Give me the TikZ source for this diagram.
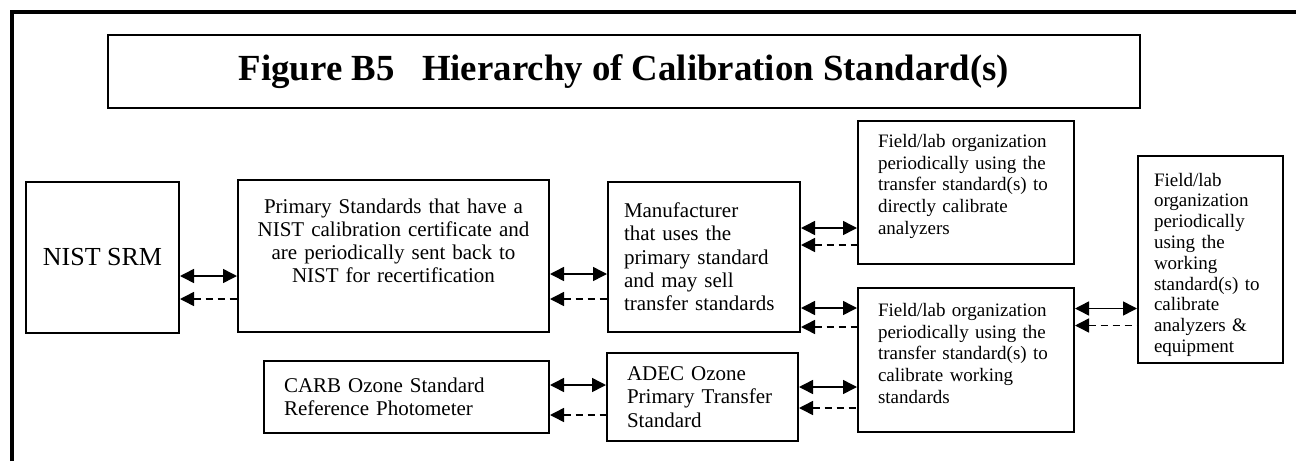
\documentclass[tikz,border=0pt]{standalone}
\usepackage{fontspec}
\setmainfont{Liberation Serif}
\usetikzlibrary{arrows.meta}

\begin{document}
\begin{tikzpicture}[x=0.5pt,y=-0.5pt,>={Triangle[length=7pt,width=7pt]},
                    line width=0.75pt]
  \tikzset{box/.style={draw,rectangle,line width=1pt,anchor=north west,inner sep=0pt},
           big/.style={font=\fontsize{10.5}{11.65}\selectfont},
           small/.style={font=\fontsize{9.5}{10.85}\selectfont},
           both/.style={<->},
           back/.style={<-,dash pattern=on 3.5pt off 2.5pt}}

  \useasboundingbox (0,0) rectangle (1296,461);
  \draw[line width=2pt] (11.5,461) -- (11.5,11.5) -- (1296,11.5);

  \node[box,minimum width=516pt,minimum height=36.5pt,
        font=\fontsize{18.4}{22}\selectfont\bfseries] (title) at (107,34)
        {Figure B5~~~Hierarchy of Calibration Standard(s)};

  \node[box,minimum width=76.5pt,minimum height=75.5pt,
        font=\fontsize{13}{15}\selectfont] (nist) at (25,181) {NIST SRM};
  \node[box,big,minimum width=155.5pt,minimum height=76pt,
        text height=16.5pt,text depth=59.5pt,
        text width=145pt,align=center] (prim) at (237,179)
        {Primary Standards that have a\\ NIST calibration certificate and\\
         are periodically sent back to\\ NIST for recertification};
  \node[box,big,minimum width=96pt,minimum height=75pt,inner xsep=8pt,
        text width=80pt,align=left] (manu) at (607,181)
        {Manufacturer\\ that uses the\\ primary standard\\ and may sell\\ transfer standards};
  \node[box,small,minimum width=108pt,minimum height=71.5pt,inner xsep=10pt,
        text height=13.25pt,text depth=58.25pt,
        text width=88pt,align=left] (fldA) at (857,120)
        {Field/lab organization\\ periodically using the\\ transfer standard(s) to\\
         directly calibrate\\ analyzers};
  \node[box,small,minimum width=108pt,minimum height=72pt,inner xsep=10pt,
        text height=14.25pt,text depth=57.75pt,
        text width=88pt,align=left] (fldB) at (857,287)
        {Field/lab organization\\ periodically using the\\ transfer standard(s) to\\
         calibrate working\\ standards};
  \node[box,font=\fontsize{9.5}{10.4}\selectfont,minimum width=72.5pt,
        minimum height=103.5pt,inner xsep=8pt,
        text height=15pt,text depth=88.5pt,
        text width=56.5pt,align=left] (work) at (1137,155)
        {Field/lab\\ organization\\ periodically\\ using the\\ working\\
         standard(s) to\\ calibrate\\ analyzers \&\\ equipment};
  \node[box,big,minimum width=142.5pt,minimum height=36pt,inner xsep=10pt,
        text width=122.5pt,align=left] (carb) at (263,360)
        {CARB Ozone Standard\\ Reference Photometer};
  \node[box,big,minimum width=95.5pt,minimum height=44pt,inner xsep=10pt,
        text width=75.5pt,align=left] (adec) at (606,352)
        {ADEC Ozone\\ Primary Transfer\\ Standard};

  % solid: both ways, dashed: back down the chain
  \draw[both] ([yshift=-9.25pt]nist.east) -- ([yshift=-9.25pt]nist.east -| prim.west);
  \draw[back] ([yshift=-20.75pt]nist.east) -- ([yshift=-20.75pt]nist.east -| prim.west);
  \draw[both] ([yshift=-9pt]prim.east) -- ([yshift=-9pt]prim.east -| manu.west);
  \draw[back] ([yshift=-21.5pt]prim.east) -- ([yshift=-21.5pt]prim.east -| manu.west);
  \draw[both] ([yshift=14.5pt]manu.east) -- ([yshift=14.5pt]manu.east -| fldA.west);
  \draw[back] ([yshift=6pt]manu.east) -- ([yshift=6pt]manu.east -| fldA.west);
  \draw[both] ([yshift=-25.5pt]manu.east) -- ([yshift=-25.5pt]manu.east -| fldB.west);
  \draw[back] ([yshift=-35pt]manu.east) -- ([yshift=-35pt]manu.east -| fldB.west);
  \draw[both] ([yshift=6pt]carb.east) -- ([yshift=6pt]carb.east -| adec.west);
  \draw[back] ([yshift=-9pt]carb.east) -- ([yshift=-9pt]carb.east -| adec.west);
  \draw[both] ([yshift=5pt]adec.east) -- ([yshift=5pt]adec.east -| fldB.west);
  \draw[back] ([yshift=-5.5pt]adec.east) -- ([yshift=-5.5pt]adec.east -| fldB.west);
  \draw[both] ([yshift=25.75pt]fldB.east) -- ([yshift=25.75pt]fldB.east -| work.west);
  \draw[back] ([yshift=17.25pt]fldB.east) -- ([yshift=17.25pt]fldB.east -| work.west);
\end{tikzpicture}
\end{document}
